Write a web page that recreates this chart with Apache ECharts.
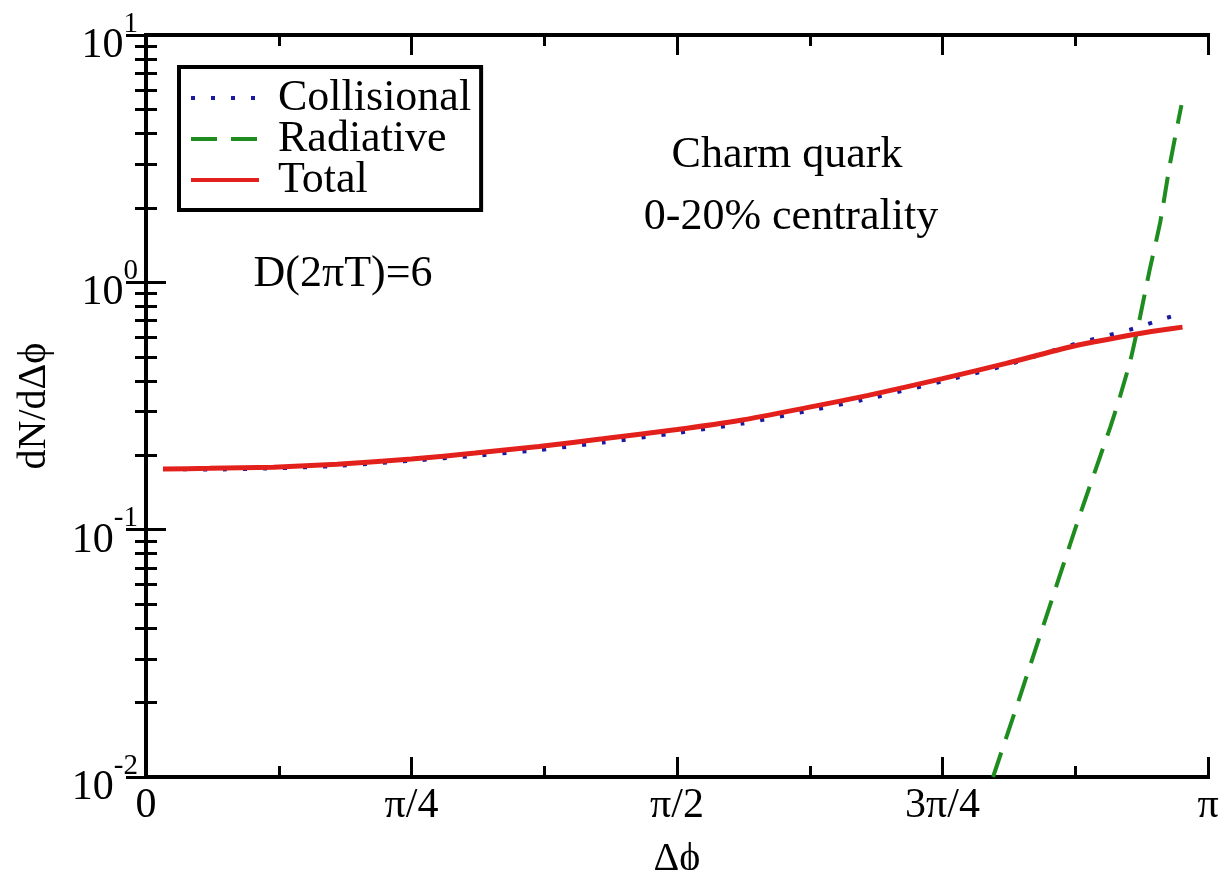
<!DOCTYPE html>
<html>
<head>
<meta charset="utf-8">
<script src="https://cdn.jsdelivr.net/npm/echarts@6/dist/echarts.min.js"></script>
<style>
  html, body { margin: 0; padding: 0; background: #ffffff; }
  #chart { width: 1224px; height: 870px; }
</style>
</head>
<body>
<div id="chart"></div>
<script>
// Tick labels of the Δφ axis (axis runs in units of π)
const xTickLabels = ['0', 'π/4', 'π/2', '3π/4', 'π'];

// Δφ / π sampling of the collisional and total curves
const phiOverPi = [0.016, 0.06, 0.12, 0.18, 0.25, 0.31, 0.37, 0.43, 0.50, 0.56, 0.62, 0.68, 0.75, 0.81, 0.87, 0.93, 0.955, 0.976];
const collisional = [0.176, 0.175, 0.177, 0.181, 0.190, 0.199, 0.210, 0.225, 0.246, 0.268, 0.300, 0.338, 0.398, 0.462, 0.556, 0.650, 0.705, 0.751];
const total = [0.176, 0.177, 0.179, 0.184, 0.193, 0.204, 0.217, 0.233, 0.254, 0.277, 0.310, 0.349, 0.408, 0.470, 0.548, 0.615, 0.640, 0.659];

// Radiative curve (Δφ / π and dN/dΔφ)
const radiativePhiOverPi = [0.7976, 0.823, 0.851, 0.879, 0.908, 0.917, 0.927, 0.936, 0.945, 0.955, 0.964, 0.975];
const radiative = [0.0100, 0.0212, 0.0491, 0.1135, 0.260, 0.344, 0.485, 0.724, 1.12, 1.75, 2.98, 5.21];

const seriesNames = ['Collisional', 'Radiative', 'Total'];
const seriesColors = ['#1a1aa0', '#1e8c1e', '#e3211c'];

const serif = '"Liberation Serif", "Times New Roman", Tinos, "DejaVu Serif", serif';

function pairs(xs, ys) {
  return xs.map((x, i) => [x, ys[i]]);
}

const xAxisBase = {
  type: 'value',
  min: 0,
  max: 1,
  interval: 0.25,
  splitLine: { show: false },
  axisLine: { show: true, lineStyle: { color: '#000', width: 4, cap: 'square' } },
  axisTick: { show: true, inside: true, length: 20, lineStyle: { color: '#000', width: 3 } },
  minorTick: { show: true, splitNumber: 2, length: 11, lineStyle: { color: '#000', width: 3 } },
  minorSplitLine: { show: false }
};

const yAxisBase = {
  type: 'log',
  logBase: 10,
  min: 0.01,
  max: 10,
  splitLine: { show: false },
  axisLine: { show: true, lineStyle: { color: '#000', width: 4, cap: 'square' } },
  axisTick: { show: true, inside: true, length: 20, lineStyle: { color: '#000', width: 3 } },
  minorTick: { show: true, splitNumber: 9, length: 11, lineStyle: { color: '#000', width: 3 } },
  minorSplitLine: { show: false }
};

const chart = echarts.init(document.getElementById('chart'), null, { renderer: 'canvas' });

chart.setOption({
  backgroundColor: '#ffffff',
  animation: false,
  textStyle: { fontFamily: serif },
  grid: { left: 146, right: 16, top: 35, bottom: 93, containLabel: false, outerBoundsMode: 'none' },
  xAxis: [
    Object.assign({}, xAxisBase, {
      position: 'bottom',
      name: 'Δϕ',
      nameLocation: 'middle',
      nameGap: 62,
      nameTextStyle: { fontFamily: serif, fontSize: 40, color: '#000' },
      axisLabel: {
        show: true,
        margin: 8,
        fontFamily: serif,
        fontSize: 42,
        color: '#000',
        showMinLabel: true,
        showMaxLabel: true,
        formatter: v => xTickLabels[Math.round(v / 0.25)]
      }
    }),
    Object.assign({}, xAxisBase, { position: 'top', axisLabel: { show: false } })
  ],
  yAxis: [
    Object.assign({}, yAxisBase, {
      position: 'left',
      name: 'dN/dΔϕ',
      nameLocation: 'middle',
      nameGap: 92,
      nameRotate: 90,
      nameTextStyle: { fontFamily: serif, fontSize: 40, color: '#000' },
      axisLabel: {
        show: true,
        margin: 8,
        formatter: v => '{b|10}{s|' + Math.round(Math.log10(v)) + '}',
        rich: {
          b: { fontFamily: serif, fontSize: 42, color: '#000', padding: [22, 0, 0, 0] },
          s: { fontFamily: serif, fontSize: 29, color: '#000', padding: [0, 0, 22, 0] }
        }
      }
    }),
    Object.assign({}, yAxisBase, { position: 'right', axisLabel: { show: false } })
  ],
  legend: {
    orient: 'vertical',
    left: 179,
    top: 67,
    data: seriesNames,
    itemWidth: 68,
    itemHeight: 14,
    itemGap: -3,
    padding: [9, 10, 8, 10],
    borderColor: '#000',
    borderWidth: 4,
    backgroundColor: '#fff',
    selectedMode: false,
    itemStyle: { opacity: 0 },
    lineStyle: { width: 4 },
    textStyle: { fontFamily: serif, fontSize: 44, color: '#000', lineHeight: 41, padding: [0, 0, 0, 14] }
  },
  graphic: [
    { type: 'text', x: 787, y: 155, style: { text: 'Charm quark', fontFamily: serif, fontSize: 44, fill: '#000', align: 'center', verticalAlign: 'middle' } },
    { type: 'text', x: 791, y: 217, style: { text: '0-20% centrality', fontFamily: serif, fontSize: 44, fill: '#000', align: 'center', verticalAlign: 'middle' } },
    { type: 'text', x: 343, y: 274, style: { text: 'D(2πT)=6', fontFamily: serif, fontSize: 44, fill: '#000', align: 'center', verticalAlign: 'middle' } }
  ],
  series: [
    {
      name: seriesNames[0],
      type: 'line',
      data: pairs(phiOverPi, collisional),
      symbol: 'none',
      smooth: 0.2,
      clip: true,
      color: seriesColors[0],
      lineStyle: { color: seriesColors[0], width: 4, type: [4, 16], cap: 'butt' },
      z: 2
    },
    {
      name: seriesNames[1],
      type: 'line',
      data: pairs(radiativePhiOverPi, radiative),
      symbol: 'none',
      smooth: 0.2,
      clip: true,
      color: seriesColors[1],
      lineStyle: { color: seriesColors[1], width: 4, type: [26, 14], cap: 'butt' },
      z: 3
    },
    {
      name: seriesNames[2],
      type: 'line',
      data: pairs(phiOverPi, total),
      symbol: 'none',
      smooth: 0.2,
      clip: true,
      color: seriesColors[2],
      lineStyle: { color: seriesColors[2], width: 5 },
      z: 4
    }
  ]
});
</script>
</body>
</html>
